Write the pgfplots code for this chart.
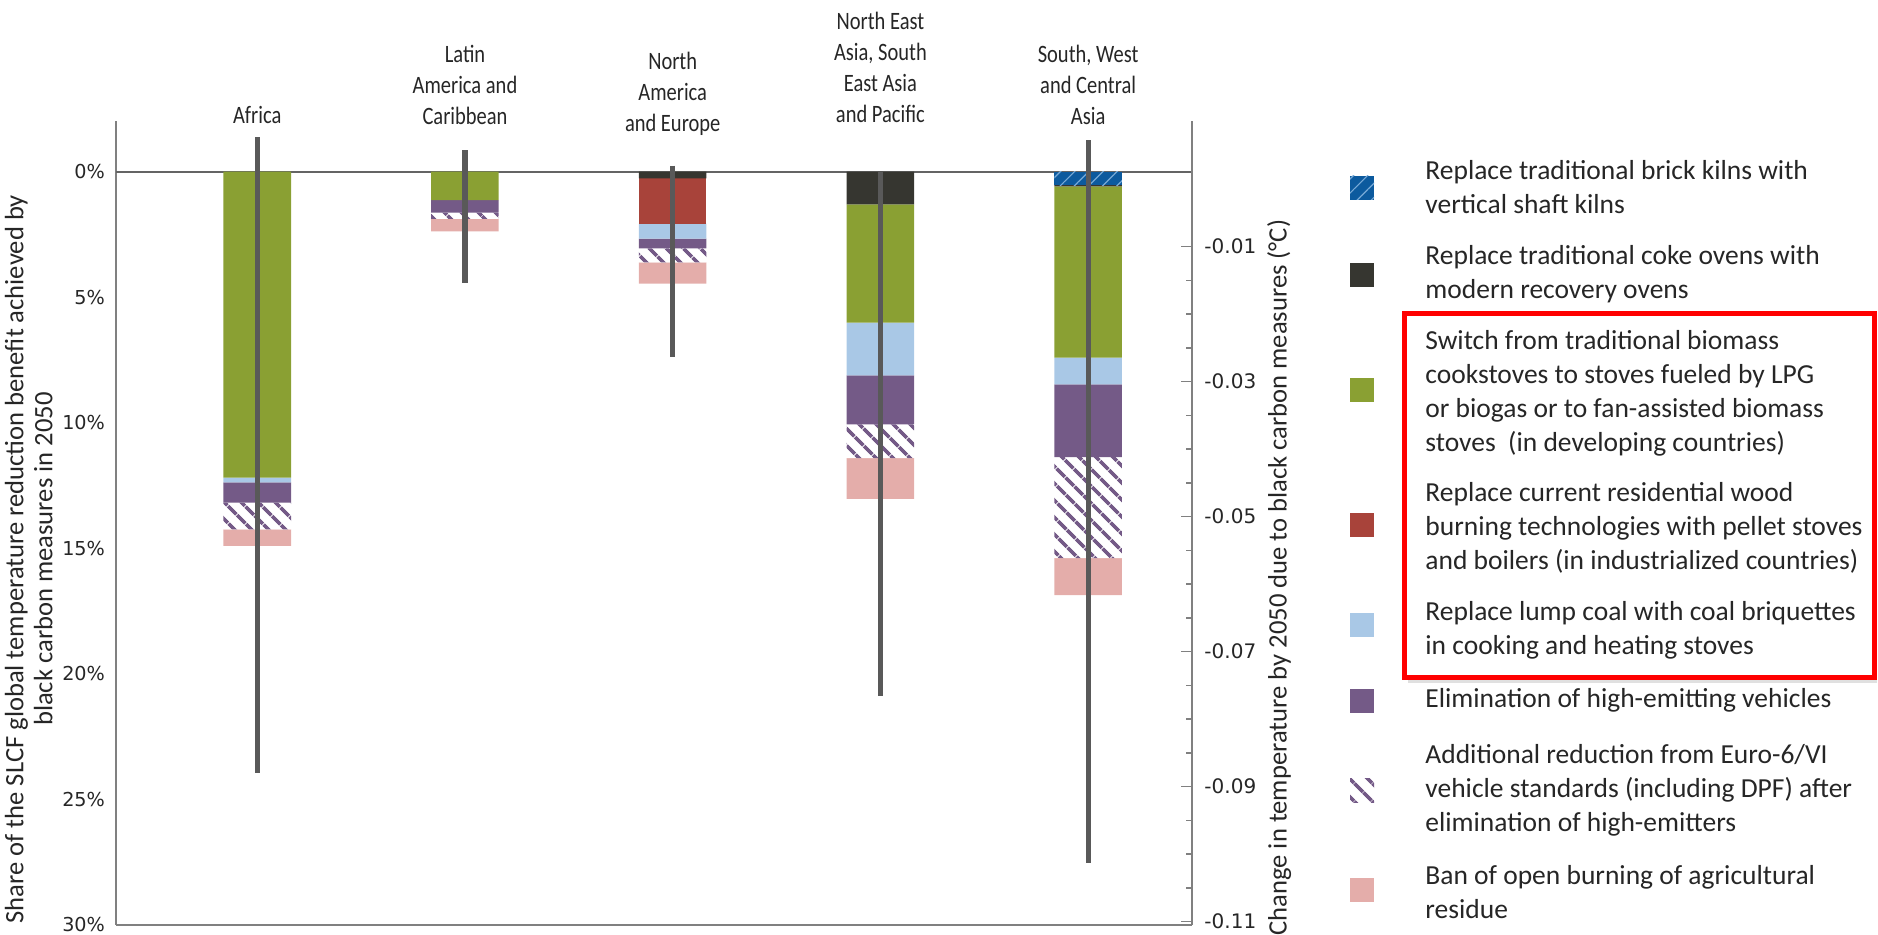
\documentclass[border=0pt]{standalone}
\usepackage{fontspec}
\setmainfont{Carlito}
\newfontfamily\dejavu{DejaVu Sans}
\newfontfamily\cond[FakeStretch=0.82]{Carlito}
\usepackage{pgfplots}
\usepackage{pgfplotstable}
\pgfplotsset{compat=1.18}
\usetikzlibrary{patterns.meta}

\definecolor{cBrick}{RGB}{12,90,158}
\definecolor{cBrickL}{RGB}{120,170,215}
\definecolor{cCoke}{RGB}{54,54,48}
\definecolor{cGreen}{RGB}{138,160,51}
\definecolor{cRed}{RGB}{168,67,58}
\definecolor{cLBlue}{RGB}{169,200,230}
\definecolor{cPurple}{RGB}{116,90,135}
\definecolor{cPink}{RGB}{228,173,170}
\definecolor{cAxis}{RGB}{128,128,128}
\definecolor{cErr}{RGB}{89,89,89}
\definecolor{cText}{RGB}{38,38,38}

% shares (percent, drawn downward as negative values)
\pgfplotstableread{
x brick coke green red lblue purple hatch pink
0 0 0 -12.18 0 -0.19 -0.81 -1.06 -0.66
1 0 0 -1.13 0 0 -0.50 -0.25 -0.50
2 0 -0.27 0 -1.80 -0.60 -0.38 -0.56 -0.85
3 0 -1.30 -4.71 0 -2.10 -1.95 -1.35 -1.62
4 -0.53 -0.05 -6.82 0 -1.07 -2.90 -4.02 -1.47
}\bars

\pgfplotsset{
  common/.style={at={(58pt,5pt)}, anchor=south west, scale only axis,
    width=538pt, height=402pt, xmin=-0.68, xmax=4.5},
  rng/.style={line width=2.6pt, cErr, mark=none},
}

\begin{document}
\begin{tikzpicture}
\useasboundingbox (0,0) rectangle (939pt,467.5pt);

% main axis with stacked bars
\begin{axis}[common,
  ymin=-30, ymax=2.02,
  ybar stacked, bar width=0.325,
  axis x line*=bottom, axis y line*=left,
  axis line style={-, draw=cAxis, line width=0.8pt},
  xtick=\empty,
  ytick={-30,-25,-20,-15,-10,-5,0},
  yticklabels={30\%,25\%,20\%,15\%,10\%,5\%,0\%},
  major tick length=0pt,
  yticklabel style={font=\dejavu\fontsize{9.6}{12}\selectfont, text=cText, xshift=-2pt},
  every axis y label/.style={at={(axis description cs:-0.081,0.455)}, anchor=center,
    rotate=90, align=center, font=\fontsize{13.3}{14.5}\selectfont, text=cText},
  ylabel={Share of the SLCF global temperature reduction benefit achieved by\\black carbon measures in 2050},
]
\addplot[fill=cBrick, draw=none, postaction={pattern={Lines[angle=45,distance=5pt,line width=0.6pt]}, pattern color=cBrickL}] table[x=x,y=brick]{\bars};
\addplot[fill=cCoke, draw=none] table[x=x,y=coke]{\bars};
\addplot[fill=cGreen, draw=none] table[x=x,y=green]{\bars};
\addplot[fill=cRed, draw=none] table[x=x,y=red]{\bars};
\addplot[fill=cLBlue, draw=none] table[x=x,y=lblue]{\bars};
\addplot[fill=cPurple, draw=none] table[x=x,y=purple]{\bars};
\addplot[fill=white, draw=none, postaction={pattern={Lines[angle=-45,distance=6.5pt,line width=2pt]}, pattern color=cPurple}] table[x=x,y=hatch]{\bars};
\addplot[fill=cPink, draw=none] table[x=x,y=pink]{\bars};
\draw[color={rgb,255:red,100;green,100;blue,100}, line width=0.9pt] (axis cs:-0.68,0) -- (axis cs:4.5,0);
\end{axis}

% overlay: uncertainty ranges and region names
\begin{axis}[common, ymin=-30, ymax=2.02, hide axis, clip=false]
\addplot[rng] coordinates {(0,1.37) (0,-23.93)};
\addplot[rng] coordinates {(1,0.86) (1,-4.44)};
\addplot[rng] coordinates {(2,0.24) (2,-7.39)};
\addplot[rng] coordinates {(3,0.00) (3,-20.89)};
\addplot[rng] coordinates {(4,1.26) (4,-27.55)};
\begin{scope}[every node/.style={anchor=south, inner sep=0pt, align=center,
    font=\cond\fontsize{12.5}{15.5}\selectfont, text=cText}]
\node at (axis cs:0,1.90) {Africa};
\node at (axis cs:1,1.86) {Latin\\America and\\Caribbean};
\node at (axis cs:2,1.44) {North\\America\\and Europe};
\node at (axis cs:3,1.95) {North East\\Asia, South\\East Asia\\and Pacific};
\node at (axis cs:4,1.86) {South, West\\and Central\\Asia};
\end{scope}
\end{axis}

% right axis: temperature change
\begin{axis}[common,
  ymin=-0.1105, ymax=0.0086,
  axis y line*=right, axis x line=none,
  axis line style={-, draw=cAxis, line width=0.8pt},
  xtick=\empty,
  ytick={-0.01,-0.03,-0.05,-0.07,-0.09,-0.11},
  yticklabels={-0.01,-0.03,-0.05,-0.07,-0.09,-0.11},
  minor ytick={-0.015,-0.02,-0.025,-0.035,-0.04,-0.045,-0.055,-0.06,-0.065,-0.075,-0.08,-0.085,-0.095,-0.1,-0.105},
  tick align=inside, major tick length=5.3pt, minor tick length=3.2pt,
  tick style={draw=cAxis, line width=0.8pt},
  yticklabel style={font=\dejavu\fontsize{10}{12}\selectfont, text=cText, xshift=2.7pt},
  every axis y label/.style={at={(axis description cs:1.081,0.432)}, anchor=center,
    rotate=90, font=\fontsize{13.3}{14.5}\selectfont, text=cText},
  ylabel={Change in temperature by 2050 due to black carbon measures (°C)},
]
\addplot[draw=none, mark=none] coordinates {(0,0)};
\end{axis}

% legend
\begin{scope}[every node/.style={anchor=west, inner sep=0pt, align=left,
    font=\fontsize{13.75}{17}\selectfont, text=cText}]
\fill[cBrick] (675pt,367.5pt) rectangle ++(12pt,12pt);
\fill[pattern={Lines[angle=45,distance=5pt,line width=0.6pt]}, pattern color=cBrickL] (675pt,367.5pt) rectangle ++(12pt,12pt);
\node at (712.5pt,374pt) {Replace traditional brick kilns with\\vertical shaft kilns};
\fill[cCoke] (675pt,323.75pt) rectangle ++(12pt,12pt);
\node at (712.5pt,330.5pt) {Replace traditional coke ovens with\\modern recovery ovens};
\fill[cGreen] (675pt,266.5pt) rectangle ++(12pt,12pt);
\node at (712.5pt,271pt) {Switch from traditional biomass\\cookstoves to stoves fueled by LPG\\or biogas or to fan-assisted biomass\\stoves~ (in developing countries)};
\fill[cRed] (675pt,199.2pt) rectangle ++(12pt,12pt);
\node at (712.5pt,203.5pt) {Replace current residential wood\\burning technologies with pellet stoves\\and boilers (in industrialized countries)};
\fill[cLBlue] (675pt,149pt) rectangle ++(12pt,12pt);
\node at (712.5pt,152.5pt) {Replace lump coal with coal briquettes\\in cooking and heating stoves};
\fill[cPurple] (675pt,111.2pt) rectangle ++(12pt,12pt);
\node at (712.5pt,117.2pt) {Elimination of high-emitting vehicles};
\fill[pattern={Lines[angle=-45,distance=6.5pt,line width=2pt]}, pattern color=cPurple] (675pt,66.25pt) rectangle ++(12pt,12pt);
\node at (712.5pt,72.5pt) {Additional reduction from Euro-6/VI\\vehicle standards (including DPF) after\\elimination of high-emitters};
\fill[cPink] (675pt,16.5pt) rectangle ++(12pt,12pt);
\node at (712.5pt,21.5pt) {Ban of open burning of agricultural\\residue};
\end{scope}
\draw[black!12, line width=1.5pt] (704pt,126.5pt) -- (938.5pt,126.5pt);
\draw[red, line width=2.5pt] (702pt,128.5pt) rectangle (937pt,310.5pt);
\end{tikzpicture}
\end{document}
